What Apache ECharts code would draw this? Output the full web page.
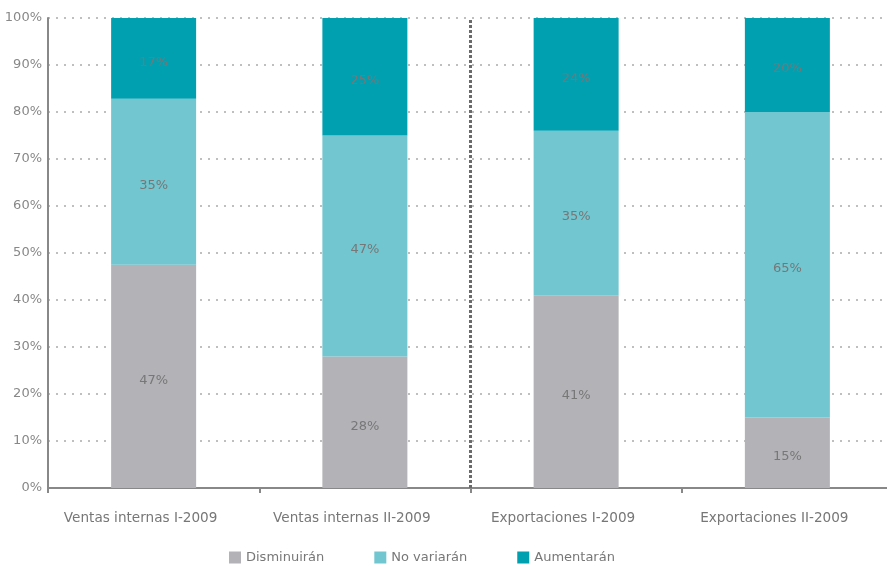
<!DOCTYPE html>
<html>
<head>
<meta charset="utf-8">
<script src="https://cdn.jsdelivr.net/npm/echarts@6/dist/echarts.min.js"></script>
<style>html,body{margin:0;padding:0;background:#fff;overflow:hidden}#c{width:893px;height:566px}</style>
</head>
<body>
<div id="c"></div>
<script>
const categories = ['Ventas internas I-2009', 'Ventas internas II-2009', 'Exportaciones I-2009', 'Exportaciones II-2009'];
const seriesNames = ['Disminuirán', 'No variarán', 'Aumentarán'];
const disminuiran = [47, 28, 41, 15];
const noVariaran = [35, 47, 35, 65];
const aumentaran = [17, 25, 24, 20];
const yTicks = [0, 10, 20, 30, 40, 50, 60, 70, 80, 90, 100];
const dividerAt = [2]; // boundary between the "Ventas" and "Exportaciones" groups
const colors = ['#b3b2b7', '#71c6d0', '#00a0b0'];

const all = [disminuiran, noVariaran, aumentaran];
const totals = categories.map((_, i) => all.reduce((s, arr) => s + arr[i], 0));
const font = 'DejaVu Sans, sans-serif';

const series = all.map((arr, k) => ({
  name: seriesNames[k],
  type: 'bar',
  stack: 'total',
  barWidth: 85,
  itemStyle: { color: colors[k] },
  label: {
    show: true, position: 'inside', offset: [0, 4], color: '#777', fontSize: 13, fontFamily: font,
    formatter: p => p.data.raw + '%'
  },
  data: arr.map((v, i) => ({ value: v / totals[i] * 100, raw: v }))
}));

series.push({
  name: 'divider', type: 'line', xAxisIndex: 1, data: [],
  markLine: {
    silent: true, symbol: 'none', label: { show: false },
    lineStyle: { color: '#6a6a6a', width: 3, type: [3, 2] },
    data: dividerAt.map(v => ({ xAxis: v }))
  }
});

const chart = echarts.init(document.getElementById('c'));
chart.setOption({
  animation: false,
  color: colors,
  grid: { left: 48, right: 0, top: 18, bottom: 78, containLabel: false },
  legend: {
    data: seriesNames, top: 546, left: 224, icon: 'rect', itemWidth: 12, itemHeight: 12, itemGap: 50,
    textStyle: { color: '#777', fontSize: 13, fontFamily: font, padding: [3, 0, 0, 0] }
  },
  xAxis: [{
    type: 'category', data: categories,
    axisLine: { lineStyle: { color: '#888', width: 2 } },
    axisTick: { show: true, length: 5, lineStyle: { color: '#888', width: 2 } },
    axisLabel: { color: '#777', fontSize: 13.6, fontFamily: font, margin: 23, padding: [0, 26, 0, 0] },
    splitLine: { show: false }
  }, {
    type: 'value', min: 0, max: categories.length, show: false
  }],
  yAxis: {
    type: 'value', min: yTicks[0], max: yTicks[yTicks.length - 1], interval: 10,
    axisLine: { show: true, lineStyle: { color: '#888', width: 2 } },
    axisTick: { show: false },
    axisLabel: { color: '#888', fontSize: 13, fontFamily: font, margin: 6, formatter: v => v + '%' },
    splitLine: { show: true, lineStyle: { color: '#aaa', width: 1.5, type: [2, 6] } }
  },
  series: series
});
</script>
</body>
</html>
